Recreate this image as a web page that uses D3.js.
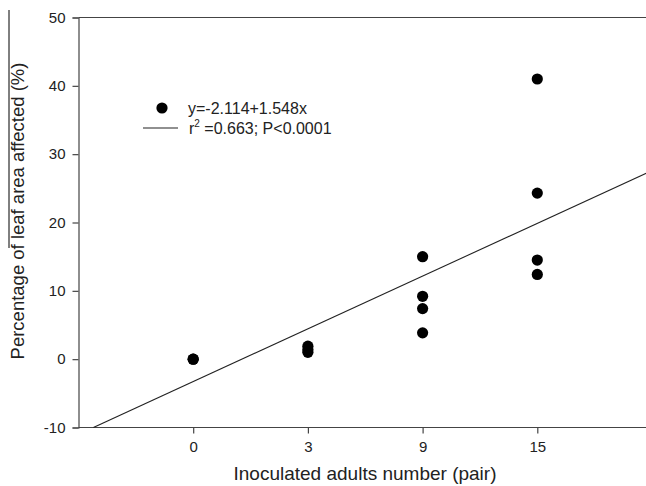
<!DOCTYPE html>
<html><head><meta charset="utf-8">
<script src="https://cdn.jsdelivr.net/npm/d3@7/dist/d3.min.js"></script>
<style>body{margin:0;background:#fff}svg{display:block}text{font-family:"Liberation Sans",Arial,sans-serif;fill:#222}</style>
</head><body><svg id="c" width="646" height="486"></svg>
<script>
const categories = ["0", "3", "9", "15"];
const yTicks = [-10, 0, 10, 20, 30, 40, 50];
const pts0 = [0, 0];
const pts3 = [1.9, 1.4, 1.0];
const pts9 = [15.0, 9.2, 7.4, 3.85];
const pts15 = [41.0, 24.3, 14.5, 12.4];
const seriesByCat = [pts0, pts3, pts9, pts15];
// fitted line endpoints in (category index, value)
const fitX = [-0.87, 4];
const fitY = [-10, 27.6];
const legendLabels = ["y=-2.114+1.548x", "r", "2", " =0.663; P<0.0001"];

const svg = d3.select("#c");
const x = d3.scaleLinear().domain([-1, 4]).range([78.5, 652]);
const y = d3.scaleLinear().domain([-10, 50]).range([427.5, 17.5]);
const axisColor = "#444";

// frame top line
svg.append("line").attr("x1", x(-1)).attr("x2", x(4)).attr("y1", y(50)).attr("y2", y(50))
  .attr("stroke", axisColor).attr("stroke-width", 1.2);

const gx = svg.append("g").attr("transform", `translate(0,${y(-10)})`)
  .call(d3.axisBottom(x).tickValues([0,1,2,3]).tickFormat(i => categories[i]).tickSize(6).tickPadding(8));
const gy = svg.append("g").attr("transform", `translate(${x(-1)},0)`)
  .call(d3.axisLeft(y).tickValues(yTicks).tickFormat(v => String(v)).tickSize(6).tickPadding(7));
[gx, gy].forEach(g => {
  g.selectAll("path,line").attr("stroke", axisColor).attr("stroke-width", 1.2);
  g.selectAll("text").style("font-size", "15px").attr("fill", "#222");
});
gx.select(".domain").attr("d", `M${x(-1)},0H${x(4)}`);

// fit line
svg.append("line").attr("x1", x(fitX[0])).attr("y1", y(fitY[0]))
  .attr("x2", x(fitX[1])).attr("y2", y(fitY[1]))
  .attr("stroke", "#222").attr("stroke-width", 1.1);

// points
const data = [];
seriesByCat.forEach((arr, i) => arr.forEach(v => data.push({i, v})));
svg.selectAll("circle.pt").data(data).enter().append("circle")
  .attr("class", "pt").attr("cx", d => x(d.i)).attr("cy", d => y(d.v)).attr("r", 5.6).attr("fill", "#000");

// legend
svg.append("circle").attr("cx", 162).attr("cy", 108).attr("r", 5.6).attr("fill", "#000");
svg.append("text").attr("x", 188).attr("y", 114).style("font-size", "16px").text(legendLabels[0]);
svg.append("line").attr("x1", 143).attr("x2", 178).attr("y1", 128).attr("y2", 128).attr("stroke", "#222").attr("stroke-width", 1.1);
const t2 = svg.append("text").attr("x", 189).attr("y", 134).style("font-size", "16px");
t2.append("tspan").text(legendLabels[1]);
t2.append("tspan").attr("dy", -7).style("font-size", "10px").text(legendLabels[2]);
t2.append("tspan").attr("dy", 7).text(legendLabels[3]);

// axis titles
svg.append("text").attr("x", 365).attr("y", 480).attr("text-anchor", "middle").style("font-size", "19px")
  .text("Inoculated adults number (pair)");
svg.append("text").attr("transform", "translate(24,211) rotate(-90)").attr("text-anchor", "middle").style("font-size", "18.5px")
  .text("Percentage of leaf area affected (%)");
// stray vertical rule seen in the reference
svg.append("line").attr("x1", 9).attr("x2", 9).attr("y1", 10).attr("y2", 248).attr("stroke", "#000").attr("stroke-width", 1);
</script></body></html>
